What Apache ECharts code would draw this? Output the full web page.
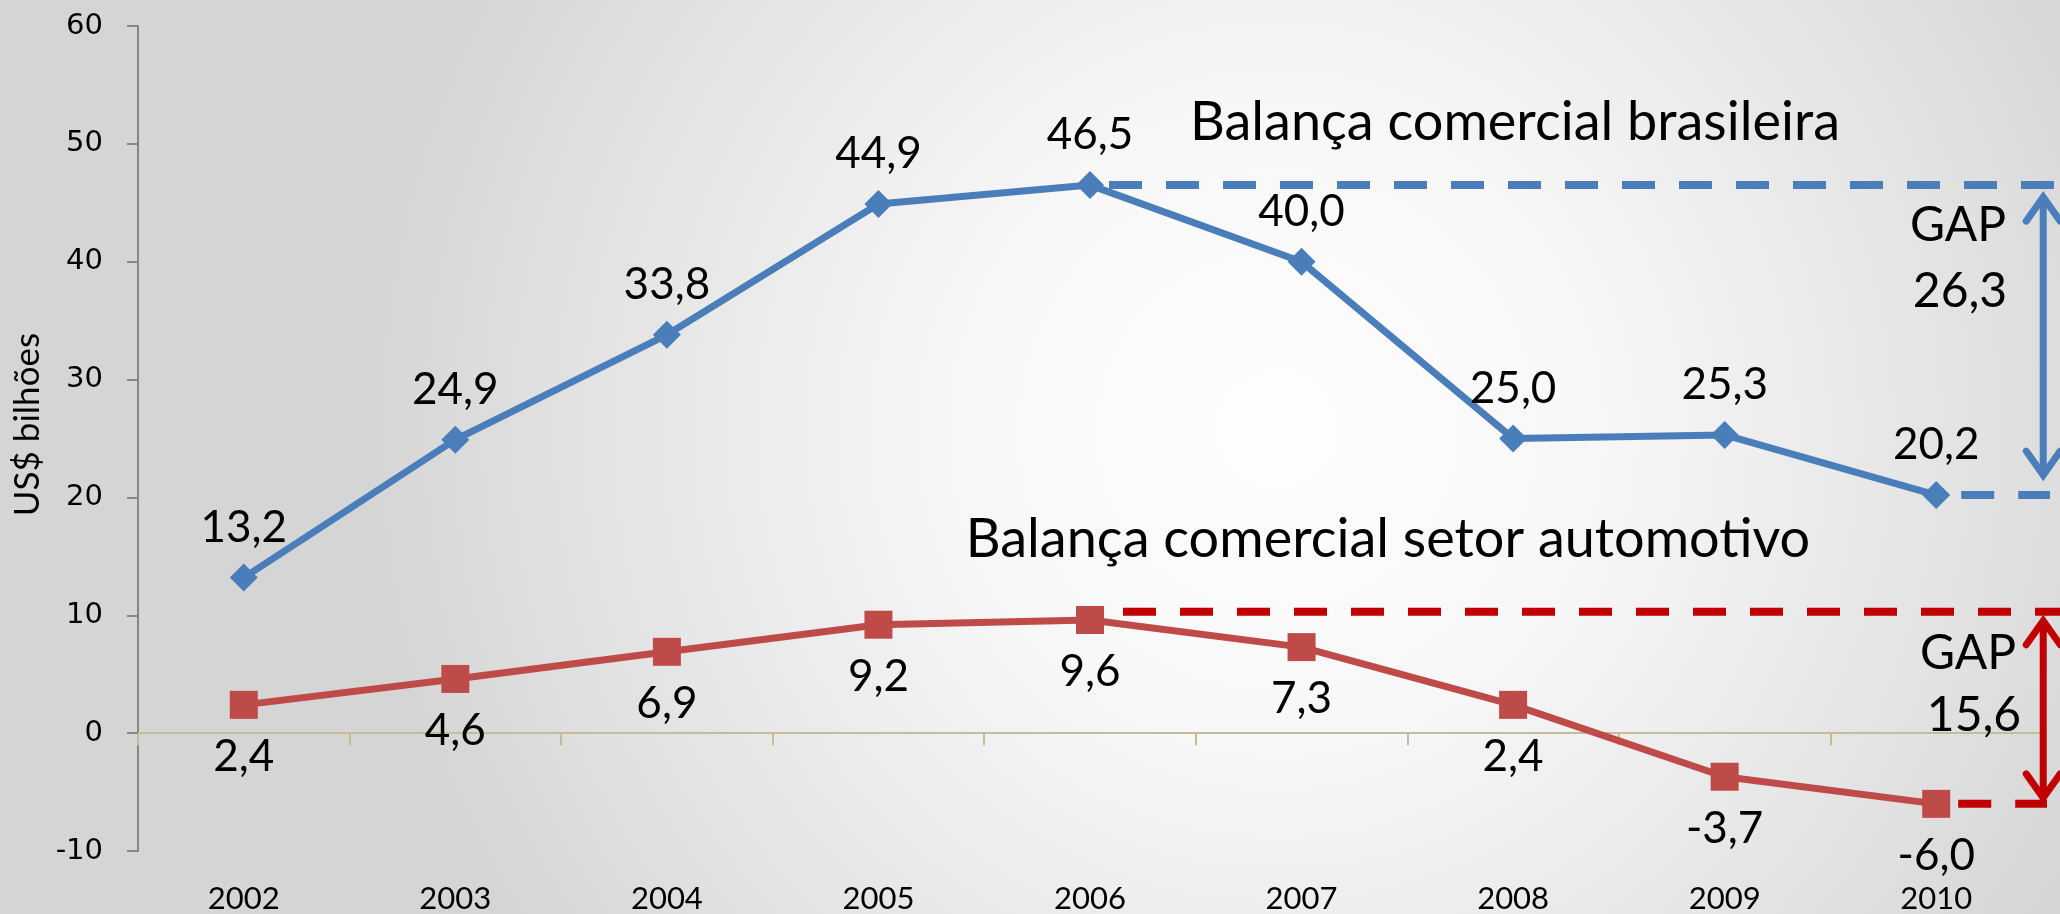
<!DOCTYPE html>
<html><head><meta charset="utf-8">
<script src="https://cdn.jsdelivr.net/npm/echarts@6/dist/echarts.min.js"></script>
<style>html,body{margin:0;padding:0;overflow:hidden;}#c{width:2060px;height:914px;}</style>
</head><body><div id="c"></div>
<script>
// ---- data ----
const years = ['2002','2003','2004','2005','2006','2007','2008','2009','2010'];
const brasil = [13.2, 24.9, 33.8, 44.9, 46.5, 40.0, 25.0, 25.3, 20.2];
const auto = [2.4, 4.6, 6.9, 9.2, 9.6, 7.3, 2.4, -3.7, -6.0];
const yMin = -10, yMax = 60, yInterval = 10;
const seriesNames = ['Balança comercial brasileira', 'Balança comercial setor automotivo'];
const axisName = 'US$ bilhões';
const gapBrasil = 26.3;
const gapAuto = 15.6;
const autoGapTopLevel = 10.3; // level of the red dashed reference line as drawn

const fmt = v => v.toFixed(1).replace('.', ',');
const chart = echarts.init(document.getElementById('c'), null, {renderer: 'canvas'});
const LBL = 'Lato';

chart.setOption({
  animation: false,
  backgroundColor: {
    type: 'radial', x: 0.62, y: 0.47, r: 1.0,
    colorStops: [
      {offset: 0, color: '#fefefe'},
      {offset: 0.35, color: '#f7f7f7'},
      {offset: 0.75, color: '#e3e3e3'},
      {offset: 1, color: '#d5d5d5'}
    ]
  },
  grid: {left: 138, right: 18, top: 26, bottom: 63, containLabel: false},
  xAxis: [{
    type: 'category', data: years, boundaryGap: true,
    axisLine: {onZero: true, lineStyle: {color: '#c4bd97', width: 2}},
    axisTick: {show: true, length: 12, lineStyle: {color: '#c4bd97', width: 2}},
    axisLabel: {show: false}, splitLine: {show: false}
  }, {
    type: 'category', data: years, boundaryGap: true, position: 'bottom',
    axisLine: {show: false, onZero: false}, axisTick: {show: false},
    axisLabel: {show: true, fontFamily: LBL, fontSize: 31, color: '#000', margin: 32},
    splitLine: {show: false}
  }],
  yAxis: {
    type: 'value', min: yMin, max: yMax, interval: yInterval,
    axisLine: {show: true, lineStyle: {color: '#868686', width: 2}},
    axisTick: {show: true, length: 11, lineStyle: {color: '#868686', width: 2}},
    axisLabel: {fontFamily: 'DejaVu Sans', fontSize: 29, color: '#000', margin: 35},
    splitLine: {show: false},
    name: axisName, nameLocation: 'middle', nameRotate: 90, nameGap: 93,
    nameTextStyle: {fontFamily: LBL, fontSize: 35, color: '#000', padding: [0, 0, 0, 28]}
  },
  series: [{
    name: seriesNames[0], type: 'line', data: brasil, xAxisIndex: 0,
    symbol: 'diamond', symbolSize: 28,
    lineStyle: {color: '#4a7ebb', width: 7},
    itemStyle: {color: '#4a7ebb'},
    label: {show: true, position: 'top', distance: 14, fontFamily: LBL, fontSize: 44, color: '#000',
      formatter: p => fmt(p.value)}
  }, {
    name: seriesNames[1], type: 'line', data: auto, xAxisIndex: 0,
    symbol: 'rect', symbolSize: 28,
    lineStyle: {color: '#be4b48', width: 7},
    itemStyle: {color: '#be4b48'},
    label: {show: true, position: 'bottom', distance: 16, fontFamily: LBL, fontSize: 44, color: '#000',
      formatter: p => fmt(p.value)}
  }]
});

// ---- annotations positioned through the chart's own scales ----
const px = (i, v) => chart.convertToPixel({xAxisIndex: 0, yAxisIndex: 0}, [i, v]);
const W = 2060;
const last = years.length - 1;
const iPeak = 4;
const bPeak = px(iPeak, brasil[iPeak]);
const bLast = px(last, brasil[last]);
const aTop = px(iPeak, autoGapTopLevel);
const aPeak = px(iPeak, auto[iPeak]);
const aLast = px(last, auto[last]);
const arrowX = px(last, 0)[0] + 107;
const blue = '#4a7ebb', red = '#c00000';
const dash = [33, 24];

function dashed(x1, x2, y, color) {
  return {type: 'line', silent: true, z: 50,
    shape: {x1: x1, y1: y, x2: x2, y2: y},
    style: {stroke: color, lineWidth: 8, lineDash: dash}};
}
function arrow(x, yTop, yBot, color) {
  const ax = 17, ay = 24;
  return [
    {type: 'line', silent: true, z: 50, shape: {x1: x, y1: yTop + 3, x2: x, y2: yBot - 3},
      style: {stroke: color, lineWidth: 7}},
    {type: 'polyline', silent: true, z: 50, shape: {points: [[x - ax, yTop + ay], [x, yTop], [x + ax, yTop + ay]]},
      style: {stroke: color, lineWidth: 7, lineCap: 'round', lineJoin: 'miter', fill: null}},
    {type: 'polyline', silent: true, z: 50, shape: {points: [[x - ax, yBot - ay], [x, yBot], [x + ax, yBot - ay]]},
      style: {stroke: color, lineWidth: 7, lineCap: 'round', lineJoin: 'miter', fill: null}}
  ];
}
function txt(s, x, y, size) {
  return {type: 'text', silent: true, z: 60, x: x, y: y,
    style: {text: s, font: size + 'px ' + LBL, fill: '#000', align: 'center', verticalAlign: 'middle'}};
}

const g = [];
g.push(dashed(bPeak[0] + 19, W, bPeak[1], blue));
g.push(dashed(bLast[0] + 25, W - 10, bLast[1], blue));
g.push(dashed(aPeak[0] + 33, W, aTop[1], red));
g.push(dashed(aLast[0] + 22, W - 13, aLast[1], red));
g.push(...arrow(arrowX, bPeak[1] + 12, bLast[1] - 20, blue));
g.push(...arrow(arrowX, aTop[1] + 9, aLast[1] - 6, red));
g.push(txt('GAP', 1958, 226, 48));
g.push(txt(fmt(gapBrasil), 1960, 292, 48));
g.push(txt('GAP', 1968, 654, 48));
g.push(txt(fmt(gapAuto), 1974, 716, 48));
g.push(txt(seriesNames[0], 1515, 123, 54));
g.push(txt(seriesNames[1], 1388, 540, 54));
chart.setOption({graphic: g});
</script>
</body></html>
